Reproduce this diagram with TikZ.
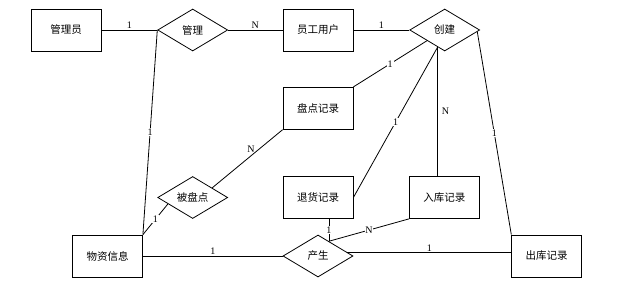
\documentclass[tikz,border=0pt]{standalone}
\usepackage{fontspec}
\setmainfont{Liberation Serif}
\newfontfamily\cjk{Noto Sans CJK SC}
\usetikzlibrary{shapes.geometric,calc}
\begin{document}
\begin{tikzpicture}[x=1pt,y=-1pt,
  ent/.style={draw,line width=0.8pt,minimum width=70pt,minimum height=42pt,inner sep=0pt,font=\cjk\fontsize{10.5}{12}\selectfont},
  rel/.style={draw,diamond,line width=0.8pt,minimum width=70pt,minimum height=42pt,inner sep=0pt,font=\cjk\fontsize{10.5}{12}\selectfont},
  lnk/.style={line width=0.8pt},
  card/.style={font=\fontsize{10}{11}\selectfont,inner sep=0.8pt},
  oncard/.style={card,fill=white}]
\path[use as bounding box] (0,0) rectangle (618,289);
\node[ent] (gly) at (66,30) {管理员};
\node[rel] (gl) at (192.7,30) {管理};
\node[ent] (yg) at (318,30) {员工用户};
\node[rel] (cj) at (444.7,30) {创建};
\node[ent] (pd) at (318,108.3) {盘点记录};
\node[rel] (bpd) at (192.7,197.5) {被盘点};
\node[ent] (th) at (318,197.5) {退货记录};
\node[ent] (rk) at (444.3,197.5) {入库记录};
\node[ent] (wz) at (107.5,256) {物资信息};
\node[rel] (cs) at (318,256) {产生};
\node[ent] (ck) at (546.7,256) {出库记录};
\coordinate (cjA) at ($(cj.west)!0.5!(cj.south)$);
\coordinate (cjB) at ($(cj.west)!0.8!(cj.south)$);
\coordinate (cjC) at ($(cj.east)!0.08!(cj.south)$);
\coordinate (bpdA) at ($(bpd.north)!0.55!(bpd.east)$);
\coordinate (bpdB) at ($(bpd.west)!0.3!(bpd.south)$);
\coordinate (csA) at ($(cs.north)!0.31!(cs.east)$);
\coordinate (csB) at ($(cs.north)!0.83!(cs.east)$);
\draw[lnk] (gly.east) -- node[card,above]{1} (gl.west);
\draw[lnk] (gl.east) -- node[card,above]{N} (yg.west);
\draw[lnk] (yg.east) -- node[card,above]{1} (cj.west);
\draw[lnk] (gl.west) -- node[oncard]{1} (wz.north east);
\draw[lnk] (cjA) -- node[oncard]{1} (pd.north east);
\draw[lnk] (cjB) -- node[oncard]{1} (th.east);
\draw[lnk] (cjB) -- node[card,right=3pt]{N} (cjB |- rk.north);
\draw[lnk] (cjC) -- node[oncard]{1} (ck.north west);
\draw[lnk] (pd.south west) -- node[card,pos=0.45,above=2pt]{N} (bpdA);
\draw[lnk] (bpdB) -- node[oncard]{1} (wz.north east);
\draw[lnk] (wz.east) -- node[card,above]{1} (cs.west);
\draw[lnk] (csB) -- node[card,above]{1} (csB -| ck.west);
\draw[lnk] (th.south -| csA) -- node[oncard]{1} (csA);
\draw[lnk] (csA) -- node[oncard]{N} (rk.south west);
\end{tikzpicture}
\end{document}
